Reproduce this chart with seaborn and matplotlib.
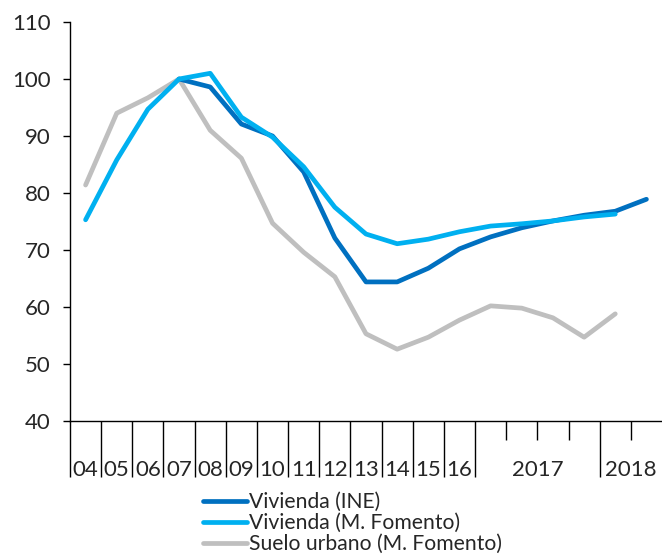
import numpy as np
import pandas as pd
import matplotlib
matplotlib.use("Agg")
import matplotlib.pyplot as plt
import seaborn as sns
from matplotlib.lines import Line2D

periods = ["04", "05", "06", "07", "08", "09", "10", "11", "12", "13", "14", "15", "16",
           "2017T1", "2017T2", "2017T3", "2017T4", "2018T1", "2018T2"]
vivienda_ine = [np.nan, np.nan, np.nan, 100.0, 98.6, 92.1, 90.0, 83.7, 72.1, 64.4, 64.4, 66.8, 70.2,
                72.3, 73.9, 75.1, 76.1, 76.8, 78.9]
vivienda_fom = [75.3, 85.8, 94.7, 100.0, 101.0, 93.3, 89.8, 84.6, 77.5, 72.8, 71.1, 71.9, 73.2,
                74.2, 74.6, 75.1, 75.8, 76.3, np.nan]
suelo_fom = [81.4, 94.0, 96.7, 100.0, 91.0, 86.1, 74.7, 69.6, 65.3, 55.3, 52.6, 54.7, 57.7,
             60.2, 59.8, 58.1, 54.7, 58.8, np.nan]
series_names = ["Vivienda (INE)", "Vivienda (M. Fomento)", "Suelo urbano (M. Fomento)"]
tick_labels = ["04", "05", "06", "07", "08", "09", "10", "11", "12", "13", "14", "15", "16", "2017", "2018"]
yticks = [40, 50, 60, 70, 80, 90, 100, 110]

sns.set_theme(style="white")
plt.rcParams["font.family"] = ["Lato", "DejaVu Sans"]

rows = []
for name, vals in zip(series_names, [vivienda_ine, vivienda_fom, suelo_fom]):
    for i, v in enumerate(vals):
        rows.append({"pos": i, "value": v, "serie": name})
df = pd.DataFrame(rows).dropna()

palette = {"Vivienda (INE)": "#0070C0", "Vivienda (M. Fomento)": "#00B0F0",
           "Suelo urbano (M. Fomento)": "#BFBFBF"}

fig = plt.figure(figsize=(6.62, 5.57), dpi=100)
ax = fig.add_axes([70 / 662, (557 - 421) / 557, (662 - 70) / 662, (421 - 22) / 557])

order_draw = ["Suelo urbano (M. Fomento)", "Vivienda (INE)", "Vivienda (M. Fomento)"]
for name in order_draw:
    sub = df[df["serie"] == name]
    sns.lineplot(data=sub, x="pos", y="value", color=palette[name], linewidth=3.4,
                 ax=ax, label=name, sort=False, legend=False)

ax.set_xlim(-0.5, 18.5)
ax.set_ylim(40, 110)
ax.set_xlabel("")
ax.set_ylabel("")
ax.set_yticks(yticks)
ax.set_yticklabels([str(t) for t in yticks])
for s in ["top", "right"]:
    ax.spines[s].set_visible(False)
for s in ["left", "bottom"]:
    ax.spines[s].set_color("black")
    ax.spines[s].set_linewidth(1.0)

ax.tick_params(axis="y", direction="out", length=5, width=1, color="black", pad=9,
               labelsize=16, labelcolor="#262626", left=True)

label_pos = list(range(13)) + [14.5, 17.5]
ax.set_xticks(label_pos)
ax.set_xticklabels(tick_labels)
ax.tick_params(axis="x", which="major", length=0, pad=28, labelsize=16, labelcolor="#262626")
long_b = [i - 0.5 for i in range(14)] + [16.5]
ax.set_xticks(long_b, minor=True)
ax.tick_params(axis="x", which="minor", direction="out", length=40, width=1, color="black", bottom=True)

sec = ax.secondary_xaxis("bottom")
sec.set_xticks([13.5, 14.5, 15.5, 17.5])
sec.set_xticklabels([])
sec.tick_params(axis="x", direction="out", length=14, width=1, color="black")
sec.spines["bottom"].set_visible(False)

handles = [Line2D([0], [0], color=palette[n], linewidth=3.4) for n in series_names]
fig.legend(handles, series_names, loc="upper left", bbox_to_anchor=(203 / 662, 1 - 492 / 557),
           frameon=False, fontsize=15.2, handlelength=2.1, handletextpad=0.1,
           labelspacing=0.05, borderpad=0, borderaxespad=0, labelcolor="#262626")

fig.savefig("out.png", dpi=100)
